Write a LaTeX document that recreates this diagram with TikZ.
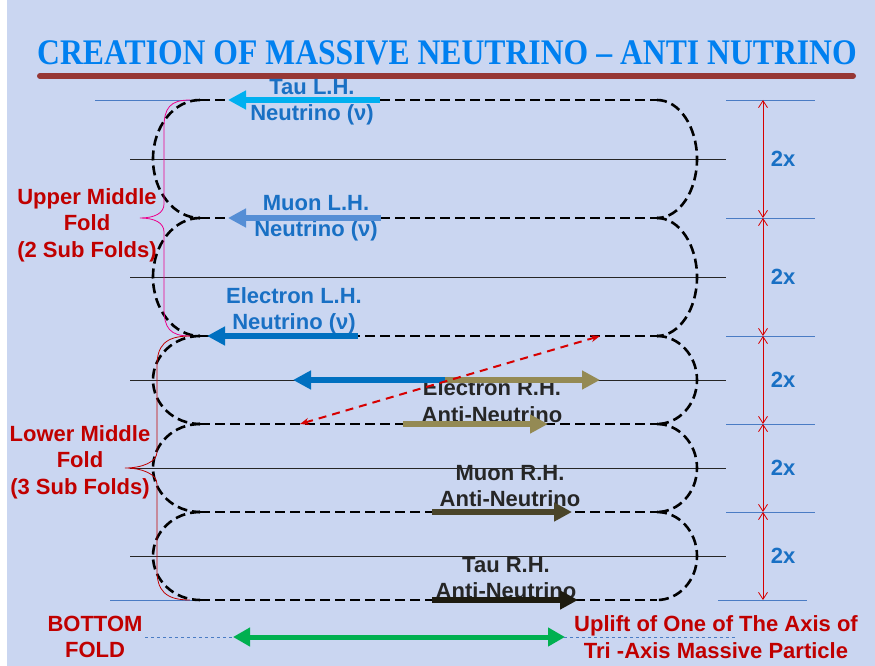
\documentclass[tikz,border=0pt]{standalone}
\usepackage{fontspec}
\setmainfont{Liberation Sans}
\newfontfamily\titlefont{Liberation Serif}
\usepackage{graphicx}
\usetikzlibrary{arrows.meta}

\definecolor{paper}{RGB}{202,214,241}
\definecolor{titleblue}{RGB}{0,128,240}
\definecolor{barred}{RGB}{150,55,53}
\definecolor{lblue}{RGB}{25,112,196}
\definecolor{lred}{RGB}{192,0,0}
\definecolor{guideblue}{RGB}{74,124,196}
\definecolor{dimred}{RGB}{215,0,0}
\definecolor{tauc}{RGB}{0,176,240}
\definecolor{muonc}{RGB}{85,142,213}
\definecolor{elecc}{RGB}{0,112,192}
\definecolor{olive}{RGB}{148,138,84}
\definecolor{darkolive}{RGB}{74,69,42}
\definecolor{nearblack}{RGB}{29,27,16}
\definecolor{greenc}{RGB}{0,176,80}

\begin{document}
\begin{tikzpicture}[x=1pt, y=-1pt, >=Stealth,
    fold/.style={line width=2.6pt, dash pattern=on 10pt off 5pt},
    midline/.style={line width=0.7pt, black!85},
    guide/.style={line width=0.8pt, guideblue},
    fat/.style={line width=6.5pt, -{Triangle[length=18pt,width=18pt]}},
    dim/.style={line width=0.8pt, dimred, {Straight Barb[length=7pt,width=9pt]}-{Straight Barb[length=7pt,width=9pt]}},
    lbl/.style={font=\bfseries\fontsize{22}{26.5}\selectfont, align=center, inner sep=0pt},
]
    \useasboundingbox (0,0) rectangle (875,666);
    \fill[white] (0,0) rectangle (875,666);
    \fill[paper] (7,0) rectangle (875,666);

    % title
    \node[titleblue, inner sep=0pt] (title) at (447,53)
        {\scalebox{0.88}[1]{\titlefont\bfseries\fontsize{36}{36}\selectfont CREATION OF MASSIVE NEUTRINO – ANTI NUTRINO}};
    \draw[barred, line width=6pt, line cap=round] (40,76) -- (853,76);

    % guide lines
    \draw[guide] (95,100) -- (200,100);
    \draw[guide] (110,600) -- (200,600);
    \foreach \y in {100,218,336,424,512}
        \draw[guide] (726,\y) -- (815,\y);
    \draw[guide] (718,600) -- (807,600);

    % folds
    \foreach \t/\b in {100/218, 218/336, 336/424, 424/512, 512/600} {
        \pgfmathsetmacro\m{(\t+\b)/2}
        \pgfmathsetmacro\k{0.552*(\b-\t)/2}
        \draw[midline] (130,\m) -- (726,\m);
        \draw[fold] (200,\t) .. controls (174,\t) and (153,\m-\k) .. (153,\m)
            .. controls (153,\m+\k) and (174,\b) .. (200,\b);
        \draw[fold] (657,\t) .. controls (679,\t) and (697,\m-\k) .. (697,\m)
            .. controls (697,\m+\k) and (679,\b) .. (657,\b);
    }
    \foreach \y in {100,218,336,424,512,600}
        \draw[fold] (200,\y) -- (657,\y);

    % sizes
    \foreach \a/\b [count=\i] in {100/218, 218/336, 336/424, 424/512, 512/600} {
        \draw[dim] (763,\a) -- (763,\b);
        \node[lbl, lblue] (d\i) at (783,{(\a+\b)/2}) {2x};
    }

    % braces
    \draw[magenta, line width=0.8pt] (190,100) .. controls (170,100) and (164,108) .. (164,128)
        -- (164,204) .. controls (164,213) and (155,218) .. (140,218)
        .. controls (155,218) and (164,223) .. (164,232)
        -- (164,308) .. controls (164,328) and (170,336) .. (190,336);
    \draw[lred, line width=0.8pt] (190,336) .. controls (165,336) and (157,346) .. (157,366)
        -- (157,452) .. controls (157,462) and (142,468) .. (125,468)
        .. controls (142,468) and (157,474) .. (157,484)
        -- (157,570) .. controls (157,590) and (165,600) .. (190,600);

    % labels
    \node[lbl, lred] (upper) at (87,225) {Upper Middle\\Fold\\(2 Sub Folds)};
    \node[lbl, lred] (lower) at (80,462) {Lower Middle\\Fold\\(3 Sub Folds)};
    \node[lbl, lred] (bottom) at (95,637) {BOTTOM\\FOLD};
    \node[lbl, lred] (uplift) at (716,637) {Uplift of One of The Axis of\\Tri -Axis Massive Particle};

    \node[lbl, lblue] (tauL) at (312,102) {Tau L.H.\\Neutrino (ν)};
    \node[lbl, lblue] (muonL) at (316,218) {Muon L.H.\\Neutrino (ν)};
    \node[lbl, lblue] (elecL) at (294,311) {Electron L.H.\\Neutrino (ν)};
    \node[lbl, black!85] (elecR) at (492,401) {Electron R.H.\\Anti-Neutrino};
    \node[lbl, black!85] (muonR) at (510,486) {Muon R.H.\\Anti-Neutrino};
    \node[lbl, black!85] (tauR) at (506,578) {Tau R.H.\\Anti-Neutrino};

    % particle arrows
    \draw[fat, tauc] (380,100) -- (228,100);
    \draw[fat, muonc] (381,218) -- (228,218);
    \draw[fat, elecc] (358,336) -- (207,336);
    \draw[fat, elecc] (447,380) -- (293,380);
    \draw[fat, olive] (445,380) -- (600,380);
    \draw[fat, olive] (403,424) -- (548,424);
    \draw[fat, darkolive] (432,512) -- (572,512);
    \draw[fat, nearblack] (432,600) -- (578,600);

    \draw[dimred, line width=2pt, dash pattern=on 8pt off 6pt,
        {Stealth[length=9pt,width=7pt]}-{Stealth[length=9pt,width=7pt]}] (300,424) -- (600,336);

    % bottom axis
    \draw[guide, dashed, line width=0.7pt] (145,637) -- (234,637);
    \draw[guide, dashed, line width=0.7pt] (564,637) -- (735,637);
    \draw[greenc, line width=5pt, {Triangle[length=17pt,width=18pt]}-{Triangle[length=17pt,width=18pt]}] (233,637) -- (565,637);
\end{tikzpicture}
\end{document}
